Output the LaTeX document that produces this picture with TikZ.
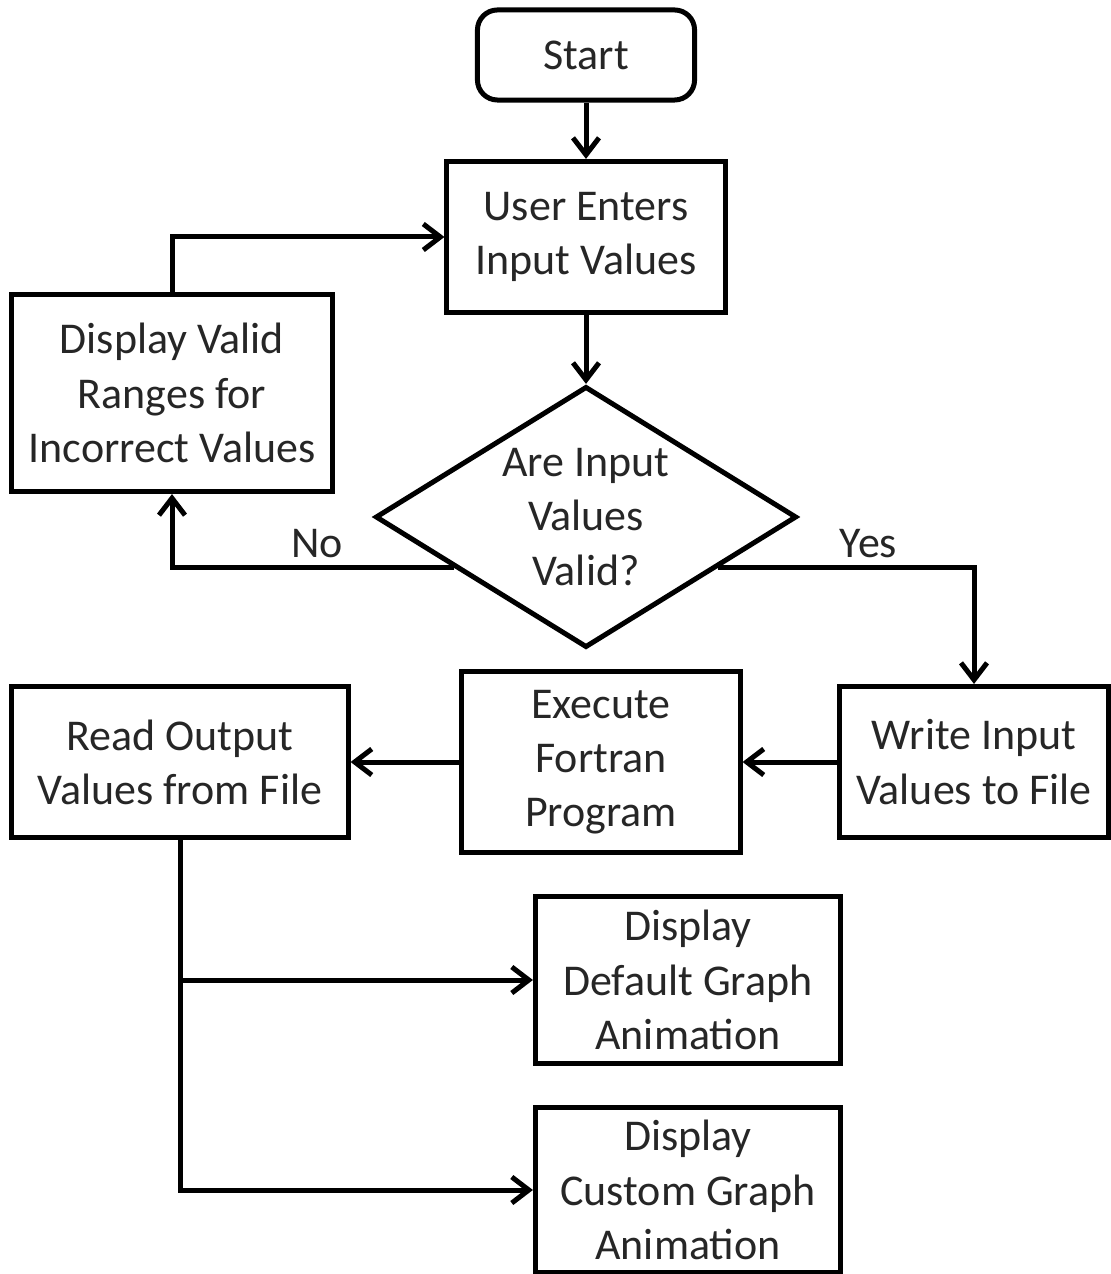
\documentclass[tikz,border=0pt]{standalone}
\usepackage{fontspec}
\setmainfont{Carlito}
\usetikzlibrary{shapes.geometric,arrows.meta,calc}

\begin{document}
\begin{tikzpicture}[
    x=0.01cm, y=-0.01cm,
    every node/.style={font=\fontsize{12.5}{15.4}\selectfont, align=center, text=black!85},
    box/.style={rectangle, draw, line width=0.05cm, inner sep=0pt},
    startbox/.style={box, rounded corners=0.2cm, minimum width=2.17cm, minimum height=0.9cm},
    decision/.style={diamond, draw, line width=0.05cm, inner sep=0pt, minimum width=4.21cm, minimum height=2.61cm},
    arr/.style={line width=0.05cm, -{Straight Barb[length=0.17cm, width=0.26cm, line width=0.05cm]}},
    lbl/.style={inner sep=2pt}
]
    \useasboundingbox (0,0) rectangle (1110,1274);

    \node[startbox] (start) at (586,55) {Start};
    \node[box, minimum width=2.78cm, minimum height=1.51cm] (user) at (586,237) {User Enters\\Input Values};
    \node[decision, label={[lbl]center:{Are Input\\Values\\Valid?}}] (valid) at (586,517) {};
    \node[box, minimum width=3.21cm, minimum height=1.97cm] (ranges) at (172,393) {Display Valid\\Ranges for\\Incorrect Values};
    \node[box, minimum width=2.68cm, minimum height=1.51cm] (write) at (974,762) {Write Input\\Values to File};
    \node[box, minimum width=2.78cm, minimum height=1.81cm] (exec) at (601,762) {Execute\\Fortran\\Program};
    \node[box, minimum width=3.36cm, minimum height=1.51cm] (read) at (180,762) {Read Output\\Values from File};
    \node[box, minimum width=3.05cm, minimum height=1.66cm] (default) at (688,980) {Display\\Default Graph\\Animation};
    \node[box, minimum width=3.05cm, minimum height=1.65cm] (custom) at (688,1190) {Display\\Custom Graph\\Animation};

    \draw[arr] (start) -- (user);
    \draw[arr] (user) -- (valid);
    \draw[arr] ($(valid.west)!0.382!(valid.south)$) -| (ranges.south) node[lbl, pos=0.243, above] {No};
    \draw[arr] ($(valid.east)!0.382!(valid.south)$) -| (write.north) node[lbl, pos=0.294, above] {Yes};
    \draw[arr] (ranges.north) |- (user.west);
    \draw[arr] (write) -- (exec);
    \draw[arr] (exec) -- (read);
    \draw[arr] (read.south) |- (default.west);
    \draw[arr] (read.south) |- (custom.west);
\end{tikzpicture}
\end{document}
